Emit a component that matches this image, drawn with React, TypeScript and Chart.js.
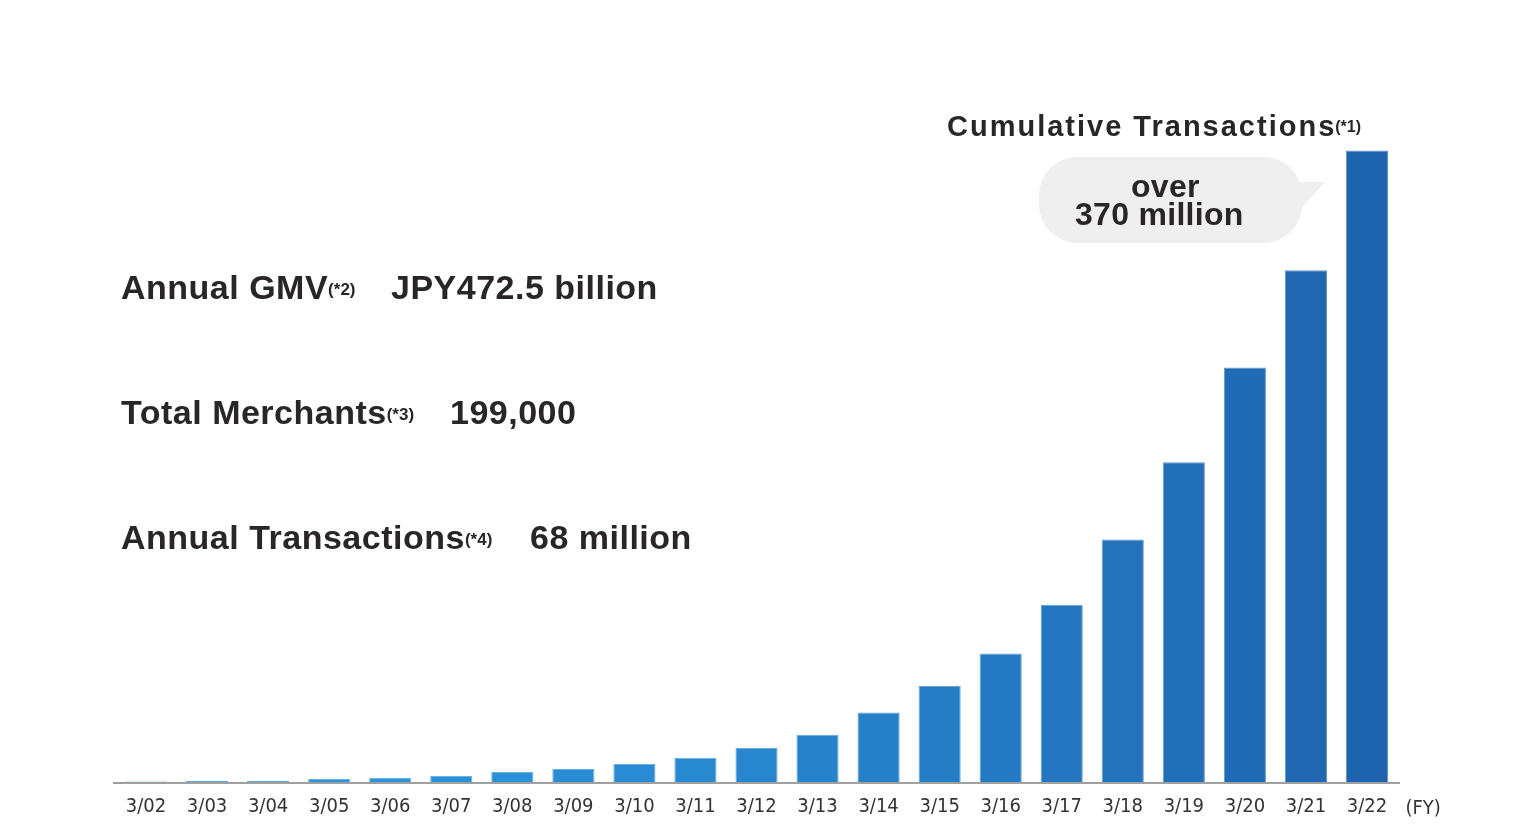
import React, { useEffect, useRef } from 'react';
import { Chart, registerables } from 'chart.js';

Chart.register(...registerables);

// ---- data ----
const categories = [
  '3/02', '3/03', '3/04', '3/05', '3/06', '3/07', '3/08', '3/09', '3/10', '3/11', '3/12',
  '3/13', '3/14', '3/15', '3/16', '3/17', '3/18', '3/19', '3/20', '3/21', '3/22',
];
// cumulative transactions, millions
const cumulativeTransactions = [
  0.3, 0.8, 0.8, 1.8, 2.5, 3.5, 5.9, 7.7, 10.6, 14.3, 20.1,
  27.9, 40.9, 56.6, 75.7, 104.4, 142.8, 188.4, 244.2, 301.4, 372,
];
const axisUnitLabel = '(FY)';
const headline = 'Cumulative Transactions';
const headlineNote = '(*1)';
const calloutLines = ['over', '370 million'];
const kpiLabels = ['Annual GMV', 'Total Merchants', 'Annual Transactions'];
const kpiNotes = ['(*2)', '(*3)', '(*4)'];
const kpiValues = ['JPY472.5 billion', '199,000', '68 million'];

// ---- styles ----
const TEXT = '#2a2627';
const BOLD = "'Liberation Sans', Arial, sans-serif";
const TICK_FONT = "'Liberation Sans Narrow', 'DejaVu Sans Condensed', sans-serif";
const C0 = [0x2b, 0x97, 0xde];
const C1 = [0x1e, 0x63, 0xad];

function mix(a: number[], b: number[], t: number) {
  return a.map((v, i) => Math.round(v + (b[i] - v) * t));
}
function rgb(c: number[]) {
  return `rgb(${c[0]},${c[1]},${c[2]})`;
}
const n = categories.length;
const barColors = categories.map((_, i) => rgb(mix(C0, C1, Math.pow(i / (n - 1), 1.6))));
const barBorders = categories.map((_, i) =>
  rgb(mix(mix(C0, C1, Math.pow(i / (n - 1), 1.6)), [255, 255, 255], 0.3))
);

const overlayPlugin = {
  id: 'overlay',
  beforeDatasetsDraw(chart: any) {
    const { ctx, chartArea } = chart;
    ctx.save();
    // axis line
    ctx.strokeStyle = '#a0a0a0';
    ctx.lineWidth = 2;
    ctx.beginPath();
    ctx.moveTo(chartArea.left - 2.5, chartArea.bottom + 1);
    ctx.lineTo(chartArea.right + 2.5, chartArea.bottom + 1);
    ctx.stroke();
    ctx.restore();
  },
  afterDraw(chart: any) {
    const { ctx, chartArea } = chart;
    ctx.save();
    ctx.textBaseline = 'alphabetic';
    ctx.textAlign = 'left';
    ctx.fillStyle = TEXT;

    // unit label
    ctx.font = `20px ${TICK_FONT}`;
    ctx.fillStyle = '#333';
    ctx.fillText(axisUnitLabel, chartArea.right + 8, 814);

    // KPI block
    ctx.fillStyle = TEXT;
    const valueX = [391, 450, 530];
    const baseY = [299, 424, 549];
    kpiLabels.forEach((lab, i) => {
      ctx.letterSpacing = '0.5px';
      ctx.font = `bold 34px ${BOLD}`;
      ctx.fillText(lab, 121, baseY[i]);
      const w = ctx.measureText(lab).width;
      ctx.letterSpacing = '0px';
      ctx.font = `bold 17px ${BOLD}`;
      ctx.fillText(kpiNotes[i], 121 + w, baseY[i] - 4);
      ctx.letterSpacing = '0.5px';
      ctx.font = `bold 34px ${BOLD}`;
      ctx.fillText(kpiValues[i], valueX[i], baseY[i]);
    });

    // headline
    ctx.font = `bold 29px ${BOLD}`;
    ctx.letterSpacing = '2px';
    ctx.fillText(headline, 947, 136);
    const hw = ctx.measureText(headline).width;
    ctx.letterSpacing = '0px';
    ctx.font = `bold 16px ${BOLD}`;
    ctx.fillText(headlineNote, 947 + hw - 1, 132);

    // callout bubble
    ctx.fillStyle = '#efefef';
    ctx.beginPath();
    ctx.roundRect(1039, 157, 263, 86, 38);
    ctx.fill();
    ctx.beginPath();
    ctx.moveTo(1288, 182);
    ctx.lineTo(1325, 182);
    ctx.lineTo(1296, 214);
    ctx.closePath();
    ctx.fill();

    ctx.fillStyle = TEXT;
    ctx.font = `bold 32px ${BOLD}`;
    ctx.letterSpacing = '0.3px';
    ctx.fillText(calloutLines[0], 1131, 197);
    ctx.fillText(calloutLines[1], 1075, 225);
    ctx.restore();
  },
};

export default function App() {
  const ref = useRef<HTMLCanvasElement | null>(null);
  useEffect(() => {
    document.body.style.margin = '0';
    const canvas = ref.current!;
    const chart = new Chart(canvas, {
      type: 'bar',
      data: {
        labels: categories,
        datasets: [
          {
            data: cumulativeTransactions,
            backgroundColor: barColors,
            borderColor: barBorders,
            borderWidth: 1,
            borderSkipped: 'bottom',
            barPercentage: 0.69,
            categoryPercentage: 1.0,
          },
        ],
      },
      options: {
        animation: false,
        responsive: false,
        maintainAspectRatio: false,
        devicePixelRatio: 1,
        layout: { padding: { top: 103, left: 115.5, right: 139.5, bottom: 0 } },
        plugins: {
          legend: { display: false },
          tooltip: { enabled: false },
          title: { display: false },
        },
        scales: {
          x: {
            grid: { display: false, drawTicks: false },
            border: { display: false },
            ticks: {
              color: '#333',
              padding: 15,
              font: { family: TICK_FONT, size: 20, lineHeight: 1.0 },
              maxRotation: 0,
              autoSkip: false,
            },
          },
          y: {
            display: false,
            min: 0,
            max: 400,
          },
        },
      },
      plugins: [overlayPlugin],
    });
    return () => chart.destroy();
  }, []);
  return (
    <div style={{ width: 1537, height: 832, background: '#fff' }}>
      <canvas ref={ref} width={1537} height={832} style={{ display: 'block', width: 1537, height: 832 }} />
    </div>
  );
}
